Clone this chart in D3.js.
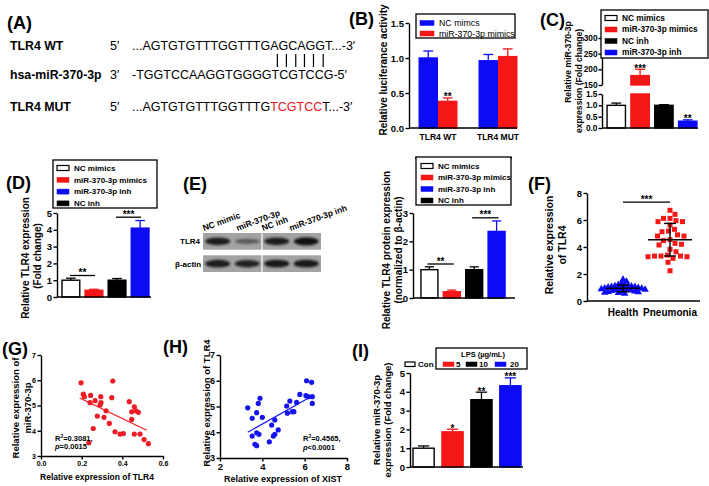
<!DOCTYPE html>
<html><head><meta charset="utf-8">
<script src="https://cdn.jsdelivr.net/npm/d3@7/dist/d3.min.js"></script>
<style>body{margin:0;background:#fff}svg{display:block}</style>
</head><body>
<script>
// ================= DATA =================
// (A) sequences
const seqLabels = ["TLR4 WT", "hsa-miR-370-3p", "TLR4 MUT"];
const seqEnds = ["5′", "3′", "5′"];
const seqWT = ["...AGTGTGTTTGGTTTG", "AGCAGG", "T...-3′"];
const seqMiR = ["-TGGTCCAAGGTGGGGTCGTCCG-5′"];
const seqMUT = ["...AGTGTGTTTGGTTTG", "TCGTCC", "T...-3′"];

// (B) luciferase
const bGroups = ["TLR4 WT", "TLR4 MUT"];
const bSeries = ["NC mimcs", "miR-370-3p mimics"];
const bNC = [1.00, 0.96];
const bNCErr = [0.10, 0.09];
const bMim = [0.38, 1.02];
const bMimErr = [0.05, 0.11];
const bMimStars = ["**", ""];
const bTicks = [0, 0.5, 1.0, 1.5];

// (C) miR-370-3p expression (broken axis)
const cCats = ["NC mimics", "miR-370-3p mimics", "NC inh", "miR-370-3p inh"];
const cVals = [1.0, 180, 1.0, 0.30];
const cErr = [0.10, 20, 0.03, 0.06];
const cStars = ["", "***", "", "**"];
const cTicksLow = [0, 0.5, 1.0, 1.5];
const cTicksHigh = [150, 200, 250, 300];

// (D) TLR4 mRNA
const dCats = ["NC mimics", "miR-370-3p mimics", "NC inh", "miR-370-3p inh"];
const dLegend = ["NC mimics", "miR-370-3p mimics", "miR-370-3p inh", "NC inh"];
const dVals = [1.0, 0.40, 1.0, 4.10];
const dErr = [0.12, 0.06, 0.10, 0.45];
const dSig = [["NC mimics", "miR-370-3p mimics", 1.28, "**"], ["NC inh", "miR-370-3p inh", 4.75, "***"]];
const dTicks = [0, 1, 2, 3, 4, 5];

// (E) western blot + protein
const blotLanes = ["NC mimic", "miR-370-3p", "NC inh", "miR-370-3p inh"];
const blotRows = ["TLR4", "β-actin"];
const blotTLR4 = [0.85, 0.30, 0.85, 0.95];
const blotActin = [0.85, 0.80, 0.90, 0.88];
const eVals = [1.0, 0.22, 1.0, 2.35];
const eErr = [0.10, 0.06, 0.10, 0.37];
const eSig = [["NC mimics", "miR-370-3p mimics", 1.20, "**"], ["NC inh", "miR-370-3p inh", 2.83, "***"]];
const eTicks = [0, 1, 2, 3];

// (F) clinical
const fCats = ["Health", "Pneumonia"];
const fHealth = [0.55, 0.60, 0.62, 0.65, 0.68, 0.70, 0.72, 0.75, 0.78, 0.80, 0.82, 0.85, 0.85, 0.88, 0.90,
                 0.92, 0.95, 0.98, 1.00, 1.02, 1.05, 1.05, 1.08, 1.10, 1.12, 1.15, 1.20, 1.30, 1.45, 1.58];
const fPneu = [6.72, 6.42, 6.12, 6.12, 5.88, 5.88, 5.63, 5.18, 5.31, 5.13, 4.81, 4.81, 4.20, 4.15, 4.27,
               4.47, 3.83, 3.33, 3.28, 3.33, 3.33, 3.65, 3.28, 3.16, 2.87, 2.24, 5.95, 4.90, 3.40, 4.55];
const fTicks = [0, 2, 4, 6, 8];

// (G) correlation miR-370-3p vs TLR4
const gX = [0.197, 0.208, 0.213, 0.244, 0.241, 0.266, 0.294, 0.295, 0.290, 0.277, 0.257, 0.320, 0.310, 0.353, 0.348,
            0.336, 0.364, 0.389, 0.405, 0.434, 0.446, 0.446, 0.459, 0.467, 0.479, 0.459, 0.487, 0.507, 0.528, 0.235];
const gY = [5.90, 5.45, 5.35, 5.40, 5.11, 5.19, 5.35, 5.11, 5.02, 4.58, 4.09, 4.79, 4.53, 5.97, 5.31,
            4.29, 3.96, 3.87, 3.89, 5.15, 4.75, 4.45, 4.95, 4.79, 4.73, 3.87, 3.87, 3.65, 3.49, 3.52];
const gFitX = [0.19, 0.52];
const gFitY = [5.30, 4.02];
const gXTicks = [0.0, 0.2, 0.4, 0.6];
const gYTicks = [3, 4, 5, 6, 7];
const gStats = ["0.3081,", "p=0.0015"];

// (H) correlation TLR4 vs XIST
const hX = [3.31, 3.52, 3.89, 3.81, 3.73, 4.00, 3.73, 3.84, 3.52, 3.65, 3.73, 4.33, 4.44, 4.59, 4.52,
            4.59, 4.75, 5.15, 5.18, 5.30, 5.41, 5.49, 5.62, 5.77, 6.09, 6.33, 6.06, 6.17, 6.36, 6.36];
const hY = [4.95, 4.54, 5.32, 5.12, 4.76, 4.58, 3.98, 3.92, 3.85, 3.53, 3.48, 3.63, 4.28, 4.48, 3.85,
            3.92, 4.09, 5.02, 4.74, 5.21, 4.80, 4.80, 5.16, 5.47, 6.00, 5.94, 5.42, 5.38, 5.38, 5.12];
const hFitX = [3.31, 6.29];
const hFitY = [4.00, 5.38];
const hXTicks = [2, 4, 6, 8];
const hYTicks = [3, 4, 5, 6, 7];
const hStats = ["0.4565,", "p<0.0001"];

// (I) LPS dose
const iCats = ["Con", "5", "10", "20"];
const iVals = [1.0, 1.87, 3.58, 4.32];
const iErr = [0.12, 0.14, 0.40, 0.42];
const iStars = ["", "*", "**", "***"];
const iTicks = [0, 1, 2, 3, 4, 5];

// ================= DRAWING =================
const FONT = "'Liberation Sans', Arial, Helvetica, sans-serif";
const BLUE = "#0b0bf5", RED = "#f51616", BLK = "#000";
const catFill = {"NC mimics": "#fff", "miR-370-3p mimics": RED, "NC inh": BLK, "miR-370-3p inh": BLUE,
                 "NC mimcs": BLUE, "Con": "#fff", "5": RED, "10": BLK, "20": BLUE};
const catStroke = k => catFill[k] === "#fff" ? BLK : catFill[k];

const svg = d3.select("body").append("svg").attr("width", 709).attr("height", 486)
  .attr("font-family", FONT);
svg.append("rect").attr("width", 709).attr("height", 486).attr("fill", "#fff");

function txt(g, x, y, s, o = {}) {
  const t = g.append("text").attr("x", x).attr("y", y).text(s)
    .attr("font-size", o.fs || 9).attr("font-weight", o.fw || "bold")
    .attr("text-anchor", o.anchor || "start").attr("fill", o.fill || "#000");
  if (o.rot) t.attr("transform", `rotate(${o.rot},${x},${y})`);
  if (o.style) t.attr("font-style", o.style);
  return t;
}
function vtitle(g, x, y, s, fs) { return txt(g, x, y, s, {fs, anchor: "middle", rot: -90}); }
function yAxis(g, scale, x, ticks, fmt, fs, pad = 1.5) {
  const a = g.append("g").attr("transform", `translate(${x},0)`)
    .call(d3.axisLeft(scale).tickValues(ticks).tickFormat(fmt).tickSize(3.5).tickSizeOuter(0).tickPadding(pad));
  a.attr("font-family", FONT).attr("font-size", fs).attr("font-weight", "bold");
  a.selectAll("path,line").attr("stroke", "#000").attr("stroke-width", 1.4);
  a.selectAll("text").attr("fill", "#000");
  return a;
}
function xAxis(g, scale, y, ticks, fmt, fs) {
  const a = g.append("g").attr("transform", `translate(0,${y})`)
    .call(d3.axisBottom(scale).tickValues(ticks).tickFormat(fmt).tickSize(3.5).tickSizeOuter(0).tickPadding(2));
  a.attr("font-family", FONT).attr("font-size", fs).attr("font-weight", "bold");
  a.selectAll("path,line").attr("stroke", "#000").attr("stroke-width", 1.4);
  a.selectAll("text").attr("fill", "#000");
  return a;
}
function hline(g, x0, x1, y, w = 1.4, c = "#000") {
  g.append("line").attr("x1", x0).attr("x2", x1).attr("y1", y).attr("y2", y).attr("stroke", c).attr("stroke-width", w);
}
function vline(g, x, y0, y1, w = 1.4, c = "#000") {
  g.append("line").attr("x1", x).attr("x2", x).attr("y1", y0).attr("y2", y1).attr("stroke", c).attr("stroke-width", w);
}
// bar + upward SEM error bar, optional stars
function bar(g, x0, w, yBase, yTop, yErr, key, star, starFs = 10) {
  const cx = x0 + w / 2, st = catStroke(key);
  vline(g, cx, yTop, yErr, 1.3, st);
  hline(g, cx - w * 0.25, cx + w * 0.25, yErr, 1.3, st);
  g.append("rect").attr("x", x0 + 0.7).attr("y", yTop).attr("width", w - 1.4).attr("height", yBase - yTop)
    .attr("fill", catFill[key]).attr("stroke", st).attr("stroke-width", 1.4);
  if (star) txt(g, cx, yErr + 2.5, star, {fs: starFs, anchor: "middle"});
}
function legendRows(g, items, x, y0, dy, fs, fw = "bold", sw = 12) {
  items.forEach((k, i) => {
    const y = y0 + i * dy;
    const f = catFill[k];
    g.append("rect").attr("x", x).attr("y", y - 2.5).attr("width", sw).attr("height", 5)
      .attr("fill", f).attr("stroke", f === "#fff" ? "#000" : f).attr("stroke-width", f === "#fff" ? 1.2 : 0.5);
    txt(g, x + sw + 5, y + fs * 0.36, k, {fs, fw});
  });
}
function box(g, x0, y0, x1, y1) {
  g.append("rect").attr("x", x0).attr("y", y0).attr("width", x1 - x0).attr("height", y1 - y0)
    .attr("fill", "#fff").attr("stroke", "#000").attr("stroke-width", 1.3);
}
function sig(g, xa, xb, y, s) {
  hline(g, xa, xb, y, 1.3);
  txt(g, (xa + xb) / 2, y + 0.5, s, {fs: 10, anchor: "middle"});
}
// simple beeswarm: horizontal offsets so that points don't overlap
function swarm(vals, yScale, d) {
  const pts = vals.map((v, i) => ({v, y: yScale(v), i})).sort((a, b) => a.y - b.y);
  const placed = [];
  pts.forEach(p => {
    for (let k = 0; k < 200; k++) {
      const off = (k % 2 ? 1 : -1) * Math.ceil(k / 2) * 0.5;
      if (placed.every(q => Math.hypot(q.dx - off, q.y - p.y) >= d)) { p.dx = off; break; }
    }
    placed.push(p);
  });
  return pts;
}

// ---------- panel labels ----------
const plabels = [["(A)", 7, 29], ["(B)", 349, 25], ["(C)", 540, 26], ["(D)", 6, 189], ["(E)", 183, 190],
                 ["(F)", 528, 190], ["(G)", 2, 355], ["(H)", 163, 353], ["(I)", 352, 357]];
plabels.forEach(([s, x, y]) => txt(svg, x, y, s, {fs: 18}));

// ---------- (A) ----------
{
  const g = svg.append("g");
  const ys = [50, 79, 111];
  seqLabels.forEach((s, i) => txt(g, 10, ys[i], s, {fs: 12.3}));
  seqEnds.forEach((s, i) => txt(g, 110, ys[i], s, {fs: 12.5, fw: "normal"}));
  const wt = g.append("text").attr("x", 132).attr("y", ys[0]).attr("font-size", 12.5);
  seqWT.forEach(s => wt.append("tspan").text(s));
  txt(g, 132, ys[1], seqMiR[0], {fs: 12.5, fw: "normal"});
  const mut = g.append("text").attr("x", 132).attr("y", ys[2]).attr("font-size", 12.5);
  seqMUT.forEach((s, i) => mut.append("tspan").text(s).attr("fill", i === 1 ? "#e8141c" : "#000"));
  // pairing bars under seed region of WT
  const node = wt.node(), start = seqWT[0].length;
  for (let i = 0; i < seqWT[1].length; i++) {
    const a = node.getStartPositionOfChar(start + i).x, b = node.getEndPositionOfChar(start + i).x;
    vline(g, (a + b) / 2 + 3, 54, 67, 1.2);
  }
}

// ---------- (B) ----------
{
  const g = svg.append("g");
  const y = d3.scaleLinear().domain([0, 1.5]).range([128, 23]);
  const x = d3.scaleBand().domain(bGroups).range([408, 528]).paddingInner(0.35).paddingOuter(0.175);
  const xs = d3.scaleBand().domain(bSeries).range([0, x.bandwidth()]);
  bGroups.forEach((grp, i) => {
    bar(g, x(grp) + xs(bSeries[0]), xs.bandwidth(), y(0), y(bNC[i]), y(bNC[i] + bNCErr[i]), bSeries[0], "");
    bar(g, x(grp) + xs(bSeries[1]), xs.bandwidth(), y(0), y(bMim[i]), y(bMim[i] + bMimErr[i]), bSeries[1], bMimStars[i]);
    txt(g, x(grp) + x.bandwidth() / 2, 140, grp, {fs: 8.5, anchor: "middle"});
  });
  yAxis(g, y, 409, bTicks, d3.format(".1f"), 9.5);
  hline(g, 409, 517, 128);
  vtitle(g, 387, 70, "Relative luciferance activity", 10);
  box(g, 416, 14, 515, 38);
  legendRows(g, bSeries, 420, 23, 10.5, 8.8, "normal", 14);
  hline(g, 415, 512, 158, 1.3);
}

// ---------- (C) ----------
{
  const g = svg.append("g");
  const yL = d3.scaleLinear().domain([0, 1.5]).range([128, 94]);
  const yH = d3.scaleLinear().domain([150, 300]).range([85, 38]);
  const yv = v => v <= 1.5 ? yL(v) : yH(v);
  const x = d3.scaleBand().domain(cCats).range([604, 700]).paddingInner(0.17).paddingOuter(0.1);
  cCats.forEach((c, i) => {
    const x0 = x(c), w = x.bandwidth();
    if (cVals[i] > 1.5) {
      bar(g, x0, w, yH(150), yH(cVals[i]), yH(cVals[i] + cErr[i]), c, cStars[i]);
      g.append("rect").attr("x", x0 + 0.7).attr("y", yL(1.5)).attr("width", w - 1.4).attr("height", yL(0) - yL(1.5))
        .attr("fill", catFill[c]).attr("stroke", catStroke(c)).attr("stroke-width", 1.4);
    } else {
      bar(g, x0, w, yL(0), yv(cVals[i]), yv(cVals[i] + cErr[i]), c, cStars[i]);
    }
  });
  yAxis(g, yL, 602, cTicksLow, d3.format(".1f"), 8.3, 1);
  yAxis(g, yH, 602, cTicksHigh, d3.format("d"), 8.3, 1);
  hline(g, 602, 698, 128);
  vtitle(g, 571, 62, "Relative miR-370-3p", 8.6);
  vtitle(g, 582, 81, "expression (Fold change)", 8.6);
  box(g, 601, 10, 708, 58);
  legendRows(g, cCats, 605, 18, 11.5, 8.3);
}

// ---------- (D) ----------
{
  const g = svg.append("g");
  const y = d3.scaleLinear().domain([0, 5]).range([297, 213]);
  const x = d3.scaleBand().domain(dCats).range([59, 152]).paddingInner(0.17).paddingOuter(0.1);
  dCats.forEach((c, i) => bar(g, x(c), x.bandwidth(), y(0), y(dVals[i]), y(dVals[i] + dErr[i]), c, ""));
  dSig.forEach(([a, b, v, s]) => sig(g, x(a) + x.bandwidth() / 2 - 1, x(b) + x.bandwidth() / 2 + 1, y(v), s));
  yAxis(g, y, 57, dTicks, d3.format("d"), 9.5);
  hline(g, 57, 151, 297);
  vtitle(g, 29, 258, "Relative TLR4 expression", 10);
  vtitle(g, 41, 256, "(Fold change)", 10);
  box(g, 53, 160, 157, 208);
  legendRows(g, dLegend, 57, 168, 11.8, 8);
}

// ---------- (E) ----------
{
  const g = svg.append("g");
  const defs = svg.append("defs");
  defs.append("filter").attr("id", "blur").attr("x", "-30%").attr("y", "-80%").attr("width", "160%").attr("height", "260%")
    .append("feGaussianBlur").attr("stdDeviation", 1.3);
  const lx = d3.scaleBand().domain(blotLanes).range([203, 321]);
  const rowY = d3.scaleBand().domain(blotRows).range([233, 272]).paddingInner(0.25);
  const rowVals = {"TLR4": blotTLR4, "β-actin": blotActin};
  blotRows.forEach(r => {
    const y0 = rowY(r), h = rowY.bandwidth();
    [[0, 2], [2, 4]].forEach(([a, b]) => {
      const xa = lx(blotLanes[a]) + (a ? 0.6 : 0), xb = lx(blotLanes[b - 1]) + lx.bandwidth() - (a ? 0 : 0.6);
      g.append("rect").attr("x", xa).attr("y", y0).attr("width", xb - xa).attr("height", h).attr("fill", "#a3a3a3");
    });
    blotLanes.forEach((ln, i) => {
      const v = rowVals[r][i];
      g.append("ellipse").attr("cx", lx(ln) + lx.bandwidth() / 2).attr("cy", y0 + h / 2)
        .attr("rx", 12.5).attr("ry", 2 + 2.2 * v).attr("fill", "#111").attr("opacity", 0.25 + 0.75 * v)
        .attr("filter", "url(#blur)");
    });
    txt(g, r === "TLR4" ? 180 : 175, y0 + h / 2 + 3, r, {fs: 8});
  });
  blotLanes.forEach((ln, i) => {
    txt(g, lx(ln) + 1 + (i === 1 ? 4 : 0) + (i === 3 ? -2 : 0), 231, ln, {fs: 8.5, rot: -20});
  });
  // bar chart
  const y = d3.scaleLinear().domain([0, 3]).range([298, 213]);
  const x = d3.scaleBand().domain(dCats).range([418, 508]).paddingInner(0.18).paddingOuter(0.1);
  dCats.forEach((c, i) => bar(g, x(c), x.bandwidth(), y(0), y(eVals[i]), y(eVals[i] + eErr[i]), c, ""));
  eSig.forEach(([a, b, v, s]) => sig(g, x(a) + x.bandwidth() / 2 - 2, x(b) + x.bandwidth() / 2 + 2, y(v), s));
  yAxis(g, y, 413, eTicks, d3.format("d"), 9.5);
  hline(g, 413, 515, 298);
  vtitle(g, 390, 250, "Relative TLR4 protein expression", 10);
  vtitle(g, 402, 250, "(normalized to β-actin)", 10);
  box(g, 416, 157, 511, 205);
  legendRows(g, dLegend, 421, 166, 11.5, 8);
}

// ---------- (F) ----------
{
  const g = svg.append("g");
  const y = d3.scaleLinear().domain([0, 8]).range([301, 193]);
  const x = d3.scalePoint().domain(fCats).range([623, 670]);
  yAxis(g, y, 587, fTicks, d3.format("d"), 9.5);
  hline(g, 587, 700, 301);
  fCats.forEach(c => txt(g, x(c), 316, c, {fs: 10, anchor: "middle"}));
  const hs = swarm(fHealth, y, 4.0);
  g.selectAll(".tri").data(hs).join("path")
    .attr("d", d3.symbol(d3.symbolTriangle, 24))
    .attr("transform", d => `translate(${x("Health") + d.dx * 0.85},${d.y})`).attr("fill", BLUE);
  const ps = swarm(fPneu, y, 6.2);
  g.selectAll(".sq").data(ps).join("rect")
    .attr("x", d => x("Pneumonia") + d.dx - 2.5).attr("y", d => d.y - 2.5).attr("width", 5).attr("height", 5).attr("fill", RED);
  [[fHealth, "Health", 17], [fPneu, "Pneumonia", 22]].forEach(([vals, c, hw]) => {
    const m = d3.mean(vals), sd = d3.deviation(vals);
    hline(g, x(c) - hw, x(c) + hw, y(m), 1.5);
    vline(g, x(c), y(m - sd), y(m + sd), 1.4);
    hline(g, x(c) - 6, x(c) + 6, y(m + sd), 1.4);
    hline(g, x(c) - 6, x(c) + 6, y(m - sd), 1.4);
  });
  sig(g, x("Health"), x("Pneumonia"), y(7.33), "***");
  vtitle(g, 553, 245, "Relative expression", 10.5);
  vtitle(g, 566, 245, "of TLR4", 10.5);
}

// ---------- (G) ----------
{
  const g = svg.append("g");
  const x = d3.scaleLinear().domain([0, 0.6]).range([41, 163]);
  const y = d3.scaleLinear().domain([3, 7]).range([456, 355]);
  yAxis(g, y, 41, gYTicks, d3.format("d"), 7);
  xAxis(g, x, 456, gXTicks, d3.format(".1f"), 7);
  g.selectAll(".gp").data(gX).join("circle")
    .attr("cx", d => x(d)).attr("cy", (d, i) => y(gY[i])).attr("r", 2.6).attr("fill", "#ee1c24");
  g.append("line").attr("x1", x(gFitX[0])).attr("y1", y(gFitY[0])).attr("x2", x(gFitX[1])).attr("y2", y(gFitY[1]))
    .attr("stroke", "#ee1c24").attr("stroke-width", 1.2);
  const t = txt(g, 55, 441, "R", {fs: 7.5});
  t.append("tspan").text("2").attr("font-size", 5).attr("dy", -3);
  t.append("tspan").text("=" + gStats[0]).attr("dy", 3);
  const p = txt(g, 55, 449, "", {fs: 7.5});
  p.append("tspan").text("p").attr("font-style", "italic");
  p.append("tspan").text(gStats[1].slice(1));
  txt(g, 97, 480, "Relative expression of TLR4", {fs: 8.5, anchor: "middle"});
  vtitle(g, 19, 408, "Relative expression of", 9.5);
  vtitle(g, 31, 408, "miR-370-3p", 9.5);
}

// ---------- (H) ----------
{
  const g = svg.append("g");
  const x = d3.scaleLinear().domain([2, 8]).range([220, 347]);
  const y = d3.scaleLinear().domain([3, 7]).range([458, 355]);
  yAxis(g, y, 220, hYTicks, d3.format("d"), 9);
  xAxis(g, x, 458, hXTicks, d3.format("d"), 9.5);
  g.selectAll(".hp").data(hX).join("circle")
    .attr("cx", d => x(d)).attr("cy", (d, i) => y(hY[i])).attr("r", 2.6).attr("fill", "#1414ee");
  g.append("line").attr("x1", x(hFitX[0])).attr("y1", y(hFitY[0])).attr("x2", x(hFitX[1])).attr("y2", y(hFitY[1]))
    .attr("stroke", "#1414ee").attr("stroke-width", 1.2);
  const t = txt(g, 303, 441, "R", {fs: 7.5});
  t.append("tspan").text("2").attr("font-size", 5).attr("dy", -3);
  t.append("tspan").text("=" + hStats[0]).attr("dy", 3);
  const p = txt(g, 303, 449.5, "", {fs: 7.5});
  p.append("tspan").text("p").attr("font-style", "italic");
  p.append("tspan").text(hStats[1].slice(1));
  txt(g, 283, 482, "Relative expression of XIST", {fs: 9, anchor: "middle"});
  vtitle(g, 210, 403, "Relative expression of TLR4", 9.5);
}

// ---------- (I) ----------
{
  const g = svg.append("g");
  const y = d3.scaleLinear().domain([0, 5]).range([467, 373]);
  const x = d3.scaleBand().domain(iCats).range([410, 524]).paddingInner(0.22).paddingOuter(0.08);
  iCats.forEach((c, i) => bar(g, x(c), x.bandwidth(), y(0), y(iVals[i]), y(iVals[i] + iErr[i]), c, iStars[i]));
  yAxis(g, y, 410, iTicks, d3.format("d"), 9.5);
  hline(g, 410, 523, 467);
  vtitle(g, 380, 420, "Relative miR-370-3p", 9.5);
  vtitle(g, 391, 420, "expression (Fold change)", 9.5);
  box(g, 436, 348, 527, 369);
  txt(g, 483, 357, "LPS (µg/mL)", {fs: 7.5, anchor: "middle"});
  const sw = [[iCats[0], 405, 418], [iCats[1], 443, 456], [iCats[2], 466, 479], [iCats[3], 495, 510]];
  sw.forEach(([c, sx, tx]) => {
    const f = catFill[c];
    g.append("rect").attr("x", sx).attr("y", 362).attr("width", c === "Con" ? 10 : 11).attr("height", 4.5)
      .attr("fill", f).attr("stroke", catStroke(c)).attr("stroke-width", f === "#fff" ? 1.2 : 0.5);
    txt(g, tx, 367, c, {fs: 8});
  });
}
</script>
</body></html>
